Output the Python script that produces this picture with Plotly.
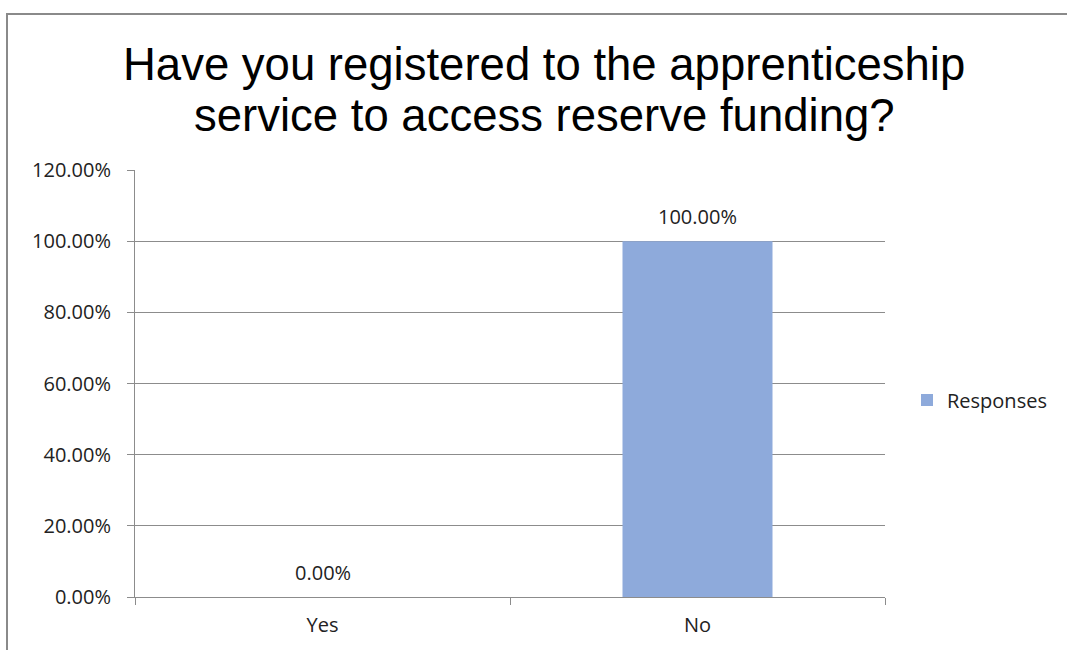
import plotly.graph_objects as go

categories = ["Yes", "No"]
values = [0.0, 1.0]
series_name = "Responses"
title_lines = ["Have you registered to the apprenticeship", "service to access reserve funding?"]
y_ticks = [0, 0.2, 0.4, 0.6, 0.8, 1.0, 1.2]

W, H = 1067, 650
L, R, T, B = 135, 885, 170, 597
FONT = "Open Sans, Lato, sans-serif"
TXT = "#222222"

fig = go.Figure()
fig.add_trace(go.Bar(
    x=categories, y=values, name=series_name,
    marker=dict(color="#8eaadb", line=dict(width=0)),
    width=0.40,
    showlegend=True,
))

def px_x(x):
    return (x - L) / (R - L)

def px_y(y):
    return (B - y) / (B - T)

annotations = []
# data labels
for c, v in zip(categories, values):
    annotations.append(dict(
        x=c, y=v, xref="x", yref="y", text=f"{v*100:.2f}%", showarrow=False,
        yanchor="middle", yshift=25,
        font=dict(family=FONT, size=20, color=TXT),
    ))
# title lines
for line, yc in zip(title_lines, [65, 115]):
    annotations.append(dict(
        text=line, xref="paper", yref="paper",
        x=px_x(544), y=px_y(yc), xanchor="center", yanchor="middle",
        showarrow=False,
        font=dict(family="Liberation Sans, Arial, sans-serif", size=45.5, color="#000000"),
    ))

fig.update_layout(
    width=W, height=H,
    margin=dict(l=L, r=W - R, t=T, b=H - B),
    paper_bgcolor="white", plot_bgcolor="white",
    font=dict(family=FONT, size=20, color=TXT),
    showlegend=True,
    legend=dict(x=px_x(907), y=px_y(400), xanchor="left", yanchor="middle",
                font=dict(family=FONT, size=20, color=TXT), itemwidth=30),
    annotations=annotations,
    shapes=[dict(type="rect", xref="paper", yref="paper",
                 x0=px_x(7), x1=px_x(1100), y0=px_y(680), y1=px_y(14),
                 line=dict(color="#8a8a8a", width=2), fillcolor="rgba(0,0,0,0)", layer="below")],
)

fig.update_yaxes(
    range=[0, 1.2], tickvals=y_ticks, tickformat=".2%",
    showgrid=True, gridcolor="#8c8c8c", gridwidth=1,
    showline=True, linecolor="#8c8c8c", linewidth=1,
    ticks="outside", ticklen=7, tickcolor="#8c8c8c",
    ticklabelstandoff=12,
    zeroline=False, fixedrange=True,
    tickfont=dict(family=FONT, size=20, color=TXT),
)
fig.update_xaxes(
    showline=True, linecolor="#8c8c8c", linewidth=1,
    ticks="outside", tickson="boundaries", ticklen=7, tickcolor="#8c8c8c",
    ticklabelstandoff=10,
    showgrid=False,
    tickfont=dict(family=FONT, size=20, color=TXT),
)

fig.write_html("out.html")
